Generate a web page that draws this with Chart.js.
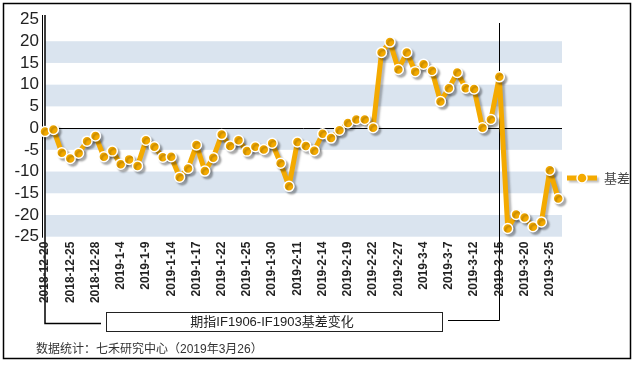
<!DOCTYPE html>
<html>
<head>
<meta charset="utf-8">
<script src="https://cdn.jsdelivr.net/npm/chart.js@4.4.1/dist/chart.umd.min.js"></script>
<style>
  html, body { margin: 0; padding: 0; background: #fff; }
  #wrap { width: 636px; height: 365px; }
</style>
</head>
<body>
<div id="wrap"><canvas id="basisChart" width="636" height="365"></canvas></div>
<script>
// trading days shown on the x axis
const dates = [
  "2018-12-20","2018-12-21","2018-12-24","2018-12-25","2018-12-26","2018-12-27","2018-12-28",
  "2019-1-2","2019-1-3","2019-1-4","2019-1-7","2019-1-8","2019-1-9","2019-1-10","2019-1-11",
  "2019-1-14","2019-1-15","2019-1-16","2019-1-17","2019-1-18","2019-1-21","2019-1-22","2019-1-23",
  "2019-1-24","2019-1-25","2019-1-28","2019-1-29","2019-1-30","2019-1-31",
  "2019-2-1","2019-2-11","2019-2-12","2019-2-13","2019-2-14","2019-2-15","2019-2-18","2019-2-19",
  "2019-2-20","2019-2-21","2019-2-22","2019-2-25","2019-2-26","2019-2-27","2019-2-28",
  "2019-3-1","2019-3-4","2019-3-5","2019-3-6","2019-3-7","2019-3-8","2019-3-11","2019-3-12",
  "2019-3-13","2019-3-14","2019-3-15","2019-3-18","2019-3-19","2019-3-20","2019-3-21","2019-3-22",
  "2019-3-25","2019-3-26"
];

// IF1906 - IF1903 basis
const basis = [
  -0.8, -0.3, -5.7, -7.0, -5.8, -3.0, -1.8,
  -6.6, -5.3, -8.3, -7.2, -8.7, -2.8, -4.3, -6.7,
  -6.6, -11.3, -9.3, -3.9, -9.9, -6.8, -1.5, -4.1,
  -2.8, -5.3, -4.3, -4.9, -3.5, -8.1,
  -13.4, -3.2, -4.1, -5.2, -1.3, -2.3, -0.5, 1.2,
  2.0, 2.0, 0.1, 17.4, 19.8, 13.5, 17.4,
  13.0, 14.7, 13.2, 6.1, 9.2, 12.8, 9.2, 9.0,
  0.1, 2.0, 11.8, -23.1, -19.9, -20.6, -22.7, -21.6,
  -9.7, -16.2
];

const yMin = -25;
const yMax = 25;
const yStep = 5;
const labelStep = 3;

const seriesName = "基差";
const titleText = "期指IF1906-IF1903基差变化";
const sourceText = "数据统计：七禾研究中心（2019年3月26）";

const orange = "#F4AA00";
const bandBlue = "#DAE4EF";

// background bands, axis lines, the callout lines and box, legend, footer
const decor = {
  id: "decor",
  beforeDraw(chart) {
    const { ctx, chartArea: a, scales: { y } } = chart;
    ctx.save();
    ctx.fillStyle = "#fff";
    ctx.fillRect(0, 0, chart.width, chart.height);

    // alternating bands, white at top
    for (let v = yMax; v > yMin; v -= yStep) {
      if (v % 10 !== 0) continue;
      const top = y.getPixelForValue(v);
      const bot = y.getPixelForValue(v - yStep);
      ctx.fillStyle = bandBlue;
      ctx.fillRect(a.left, top, a.right - a.left, bot - top);
    }

    ctx.strokeStyle = "#000";
    ctx.lineWidth = 1;
    // zero line
    const y0 = Math.round(y.getPixelForValue(0)) + 0.5;
    ctx.beginPath();
    ctx.moveTo(a.left, y0);
    ctx.lineTo(a.right, y0);
    ctx.stroke();

    // double y axis line
    ctx.beginPath();
    ctx.moveTo(42.5, 15);
    ctx.lineTo(42.5, a.bottom + 1);
    ctx.stroke();

    // left callout line down to the title box
    ctx.lineWidth = 1.5;
    ctx.beginPath();
    ctx.moveTo(45, 15);
    ctx.lineTo(45, 323.5);
    ctx.lineTo(101, 323.5);
    ctx.stroke();

    // right callout line at 3-15
    ctx.lineWidth = 1;
    ctx.beginPath();
    ctx.moveTo(499.5, 23);
    ctx.lineTo(499.5, 320.5);
    ctx.lineTo(448, 320.5);
    ctx.stroke();
    ctx.restore();
  },
  beforeDatasetDraw(chart) {
    const ctx = chart.ctx;
    ctx.save();
    ctx.shadowColor = "rgba(0,0,0,0.28)";
    ctx.shadowOffsetX = 2.5;
    ctx.shadowOffsetY = 2.5;
    ctx.shadowBlur = 2;
  },
  afterDatasetDraw(chart) {
    chart.ctx.restore();
  },
  afterDraw(chart) {
    const ctx = chart.ctx;
    ctx.save();

    // title box
    ctx.strokeStyle = "#222";
    ctx.lineWidth = 1;
    ctx.strokeRect(106.5, 312.5, 336, 19);
    ctx.fillStyle = "#222";
    ctx.font = '13px "Liberation Sans", "Noto Sans CJK SC", sans-serif';
    ctx.textAlign = "center";
    ctx.textBaseline = "middle";
    ctx.fillText(titleText, 272, 322.5);

    // footer
    ctx.fillStyle = "#333";
    ctx.font = '12px "Liberation Sans", "Noto Sans CJK SC", sans-serif';
    ctx.textAlign = "left";
    ctx.fillText(sourceText, 36, 350);

    // legend
    const ly = 178;
    ctx.save();
    ctx.shadowColor = "rgba(0,0,0,0.25)";
    ctx.shadowOffsetX = 2;
    ctx.shadowOffsetY = 2;
    ctx.shadowBlur = 2;
    ctx.strokeStyle = orange;
    ctx.lineWidth = 5;
    ctx.beginPath();
    ctx.moveTo(567, ly);
    ctx.lineTo(597, ly);
    ctx.stroke();
    ctx.restore();
    ctx.beginPath();
    ctx.arc(582, ly, 5, 0, Math.PI * 2);
    ctx.fillStyle = orange;
    ctx.fill();
    ctx.lineWidth = 1.5;
    ctx.strokeStyle = "#fff";
    ctx.stroke();
    ctx.fillStyle = "#444";
    ctx.font = '13px "Noto Sans CJK SC", sans-serif';
    ctx.fillText(seriesName, 604, ly);

    // outer frame
    ctx.strokeStyle = "#000";
    ctx.lineWidth = 1.5;
    ctx.strokeRect(3.5, 3.5, 627, 355);
    ctx.restore();
  }
};

const tickIndexes = dates.map((d, i) => i).filter(i => i % labelStep === 0);

new Chart(document.getElementById("basisChart"), {
  type: "line",
  data: {
    datasets: [{
      label: seriesName,
      data: basis.map((v, i) => ({ x: i, y: v })),
      borderColor: orange,
      borderWidth: 5,
      borderJoinStyle: "round",
      borderCapStyle: "round",
      pointRadius: 5,
      pointHoverRadius: 5,
      pointBackgroundColor: orange,
      pointBorderColor: "#fff",
      pointBorderWidth: 1.5,
      tension: 0,
      clip: false
    }]
  },
  options: {
    responsive: false,
    animation: false,
    devicePixelRatio: 1,
    layout: { padding: { top: 19.5, right: 74, bottom: 28.3, left: 0 } },
    plugins: {
      legend: { display: false },
      tooltip: { enabled: false }
    },
    scales: {
      x: {
        type: "linear",
        min: 0,
        max: 61.45,
        afterFit: s => { s.height = 100; },
        afterBuildTicks: s => { s.ticks = tickIndexes.map(v => ({ value: v })); },
        grid: { display: false, drawTicks: false },
        border: { display: false },
        ticks: {
          autoSkip: false,
          minRotation: 90,
          maxRotation: 90,
          padding: 5,
          color: "#222",
          font: { family: "Liberation Sans", size: 12, weight: "bold" },
          callback: v => dates[v]
        }
      },
      y: {
        min: yMin,
        max: yMax,
        afterFit: s => { s.width = 45; },
        grid: { display: false, drawTicks: false },
        border: { display: false },
        ticks: {
          stepSize: yStep,
          autoSkip: false,
          padding: 6,
          color: "#222",
          font: { family: "Liberation Sans", size: 17 }
        }
      }
    }
  },
  plugins: [decor]
});
</script>
</body>
</html>
